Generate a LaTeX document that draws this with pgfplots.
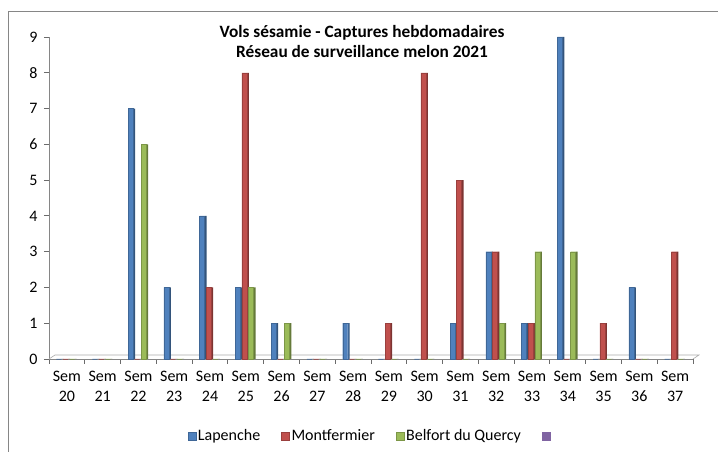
\documentclass[border=0pt]{standalone}
\usepackage{fontspec}
\setmainfont{Carlito}
\usepackage{pgfplots}
\pgfplotsset{compat=1.18}
\definecolor{cblue}{HTML}{4F81BD}
\definecolor{cred}{HTML}{C0504D}
\definecolor{cgreen}{HTML}{9BBB59}
\definecolor{cpurple}{HTML}{8064A2}
\definecolor{axgray}{HTML}{868686}
\pgfplotsset{sq/.style={legend image code/.code={\fill[##1] (0pt,-4pt) rectangle (8pt,4pt);}}}
\pgfplotstableread{
x  lap  mon  bel
0  0    0    0
1  0    0    0
2  7    0    6
3  2    0    0
4  4    2    0
5  2    8    2
6  1    0    1
7  0    0    0
8  1    0    0
9  0    1    0
10 0    8    0
11 1    5    0
12 3    3    1
13 1    1    3
14 9    0    3
15 0    1    0
16 2    0    0
17 0    3    0
}\data
\begin{document}
\begin{tikzpicture}
\path[use as bounding box] (0pt,0pt) rectangle (718pt,452pt);
\draw[color=axgray, line width=1pt] (8pt,0pt) -- (8pt,440pt) -- (718pt,440pt);
\node[font=\bfseries\fontsize{17.3}{20}\selectfont, anchor=base] at (362pt,414pt) {Vols sésamie - Captures hebdomadaires};
\node[font=\bfseries\fontsize{17.3}{20}\selectfont, anchor=base] at (362pt,394pt) {Réseau de surveillance melon 2021};
\begin{axis}[
  at={(49pt,93pt)}, anchor=south west,
  scale only axis, width=644pt, height=322pt,
  xmin=-0.5, xmax=17.5, ymin=0, ymax=9,
  ytick={0,...,9},
  xtick={-0.5,0.5,...,17.5},
  xticklabels={{Sem\\20},{Sem\\21},{Sem\\22},{Sem\\23},{Sem\\24},{Sem\\25},{Sem\\26},{Sem\\27},{Sem\\28},{Sem\\29},{Sem\\30},{Sem\\31},{Sem\\32},{Sem\\33},{Sem\\34},{Sem\\35},{Sem\\36},{Sem\\37},{}},
  xticklabel style={align=center, font=\fontsize{16}{19.5}\selectfont, yshift=-4pt, xshift=17.9pt},
  yticklabel style={font=\fontsize{16}{19}\selectfont, xshift=-3pt},
  /pgf/number format/assume math mode=true,
  axis lines*=left,
  axis line style={axgray, line width=0.8pt},
  tick align=outside,
  major tick length=5pt,
  tick style={draw=axgray!80!black, line width=0.9pt},
  ybar,
  clip=false,
  legend style={at={(0.5,-0.239)}, anchor=center, draw=none, legend columns=4,
    font=\fontsize{16}{19}\selectfont,
    /tikz/every even column/.append style={column sep=19pt}},
]
% 3D floor edge
\draw[axgray!70, line width=0.6pt] (axis cs:-0.5,0) -- ([xshift=6pt,yshift=4pt]axis cs:-0.5,0) -- ([xshift=6pt,yshift=4pt]axis cs:17.5,0) -- (axis cs:17.5,0);
% darker side faces (3D look)
\addplot[forget plot, bar width=2pt, bar shift=-4.4pt, fill=cblue!65!black, draw=none] table[x=x,y=lap] {\data};
\addplot[forget plot, bar width=2pt, bar shift=2.2pt, fill=cred!65!black, draw=none] table[x=x,y=mon] {\data};
\addplot[forget plot, bar width=2pt, bar shift=8.8pt, fill=cgreen!65!black, draw=none] table[x=x,y=bel] {\data};
% front faces
\addplot[sq, bar width=5pt, bar shift=-7.9pt, fill=cblue, draw=cblue!80!black, line width=0.3pt] table[x=x,y=lap] {\data};
\addlegendentry{Lapenche}
\addplot[sq, bar width=5pt, bar shift=-1.3pt, fill=cred, draw=cred!80!black, line width=0.3pt] table[x=x,y=mon] {\data};
\addlegendentry{Montfermier}
\addplot[sq, bar width=5pt, bar shift=5.3pt, fill=cgreen, draw=cgreen!80!black, line width=0.3pt] table[x=x,y=bel] {\data};
\addlegendentry{Belfort du Quercy}
\addlegendimage{sq, fill=cpurple, draw=cpurple}
\addlegendentry{}
\end{axis}
\end{tikzpicture}
\end{document}
